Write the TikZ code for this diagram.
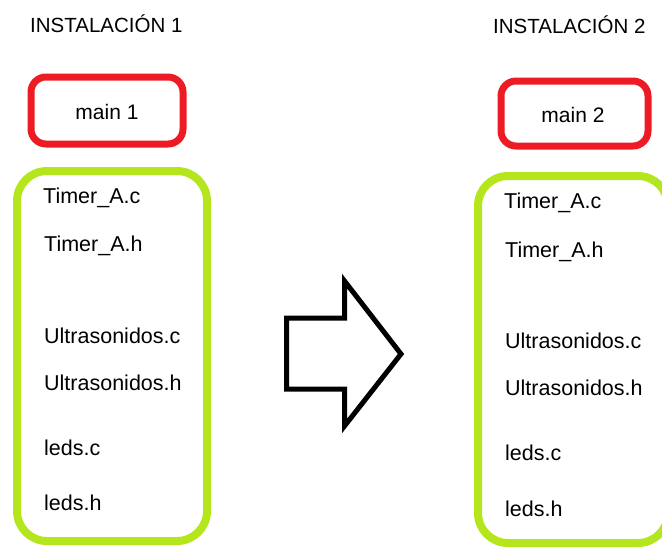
\documentclass[tikz,border=0pt]{standalone}
\usepackage{fontspec}
\setmainfont{Liberation Sans}
\definecolor{mainred}{HTML}{ED1C24}
\definecolor{filegreen}{HTML}{B5E61D}
\begin{document}
\begin{tikzpicture}[x=1pt,y=-1pt,
  title/.style={anchor=base west,inner sep=0pt,font=\fontsize{20.5}{24}\selectfont},
  file/.style={anchor=base west,inner sep=0pt,font=\fontsize{21.5}{25}\selectfont},
  mainbox/.style={draw=mainred,line width=7pt,rounded corners=15pt},
  groupbox/.style={draw=filegreen,line width=8pt,rounded corners=30pt},
  bigarrow/.style={draw=black,line width=5pt,line join=miter,fill=white}]
\useasboundingbox (0,0) rectangle (662,549);
\clip (0,0) rectangle (662,549);

% left installation
\node[title] (t1) at (30,32) {INSTALACIÓN 1};
\draw[mainbox] (31,77) rectangle (183,144);
\node[file,anchor=base,font=\fontsize{21}{25}\selectfont] (m1) at (107,119) {main 1};
\draw[groupbox] (17,171) rectangle (207,541);
\node[file] (ta1) at (43,203) {Timer\_A.c};
\node[file] (th1) at (44,251) {Timer\_A.h};
\node[file] (uc1) at (44,343) {Ultrasonidos.c};
\node[file] (uh1) at (44,390) {Ultrasonidos.h};
\node[file] (lc1) at (44,455) {leds.c};
\node[file] (lh1) at (44,510) {leds.h};

% transition arrow
\draw[bigarrow] (286.5,318) -- (344.5,318) -- (344.5,281) -- (401,354)
  -- (344.5,426) -- (344.5,389) -- (286.5,389) -- cycle;

% right installation
\node[title] (t2) at (493,33) {INSTALACIÓN 2};
\draw[mainbox] (501,81) rectangle (648,146);
\node[file,anchor=base,font=\fontsize{21}{25}\selectfont] (m2) at (573,122) {main 2};
\draw[groupbox] (478,176) rectangle (668,543);
\node[file] (ta2) at (504,208) {Timer\_A.c};
\node[file] (th2) at (505,257) {Timer\_A.h};
\node[file] (uc2) at (505,348) {Ultrasonidos.c};
\node[file] (uh2) at (505,395) {Ultrasonidos.h};
\node[file] (lc2) at (505,460) {leds.c};
\node[file] (lh2) at (505,516) {leds.h};
\end{tikzpicture}
\end{document}
